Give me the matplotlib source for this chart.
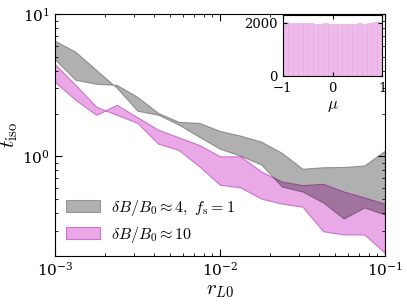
import numpy as np
import matplotlib
matplotlib.use('Agg')
import matplotlib.pyplot as plt

plt.rcParams['mathtext.fontset'] = 'cm'
plt.rcParams['font.family'] = 'serif'
plt.rcParams['font.serif'] = ['DejaVu Serif']

# r_L0 grid
r_L0 = [1.00e-3, 1.33e-3, 1.78e-3, 2.37e-3, 3.16e-3, 4.22e-3, 5.62e-3, 7.50e-3,
        1.00e-2, 1.33e-2, 1.78e-2, 2.37e-2, 3.16e-2, 4.22e-2, 5.62e-2, 7.50e-2, 1.00e-1]

# dB/B0 ~ 4, f_s = 1 (gray band)
gray_a = [6.50, 5.44, 4.05, 3.03, 2.09, 1.96, 1.67, 1.37, 1.13, 1.01, 0.875,
          0.613, 0.566, 0.474, 0.366, 0.437, 0.390]
gray_b = [4.81, 3.45, 3.23, 3.18, 2.62, 2.02, 1.75, 1.72, 1.51, 1.40, 1.27,
          1.06, 0.820, 0.840, 0.843, 0.865, 1.10]

# dB/B0 ~ 10 (pink band)
pink_c = [4.44, 3.18, 2.23, 1.96, 1.72, 1.23, 1.11, 0.851, 0.633, 0.606, 0.505,
          0.466, 0.444, 0.298, 0.283, 0.283, 0.210]
pink_d = [3.34, 2.50, 1.96, 2.30, 1.88, 1.54, 1.36, 1.20, 1.00, 1.00, 0.781,
          0.665, 0.628, 0.641, 0.566, 0.514, 0.464]

# inset histogram of mu
mu_edges = np.linspace(-1, 1, 21)
mu_counts = [2030, 1990, 1980, 1975, 1990, 1970, 1960, 1965, 1970, 1960,
             1950, 1955, 1940, 1945, 1960, 1980, 1950, 2000, 2010, 2015]

fig = plt.figure(figsize=(4.07, 3.05), dpi=100)
ax = fig.add_axes([0.135, 0.161, 0.811, 0.793])

p = ax.fill_between(r_L0, pink_c, pink_d, facecolor='#e9a9e6', edgecolor='#d070d0',
                    linewidth=0.8, label=r'$\delta B/B_0 \approx 10$')
g = ax.fill_between(r_L0, gray_a, gray_b, facecolor='black', alpha=0.31,
                    edgecolor='black', linewidth=0.8,
                    label=r'$\delta B/B_0 \approx 4,\ f_{\rm s}=1$')

ax.set_xscale('log')
ax.set_yscale('log')
ax.set_xlim(1e-3, 1e-1)
ax.set_ylim(0.2, 10)
ax.set_xlabel(r'$r_{L0}$', fontsize=15)
ax.set_ylabel(r'$t_{\rm iso}$', fontsize=15, labelpad=2)
ax.tick_params(which='both', direction='in', top=True, right=True, labelsize=11)
ax.tick_params(which='major', length=5)
ax.tick_params(which='minor', length=2.5)
ax.xaxis.labelpad = 2

ax.legend(handles=[g, p], loc='lower left', frameon=False, fontsize=11.5,
          handlelength=2.1, handleheight=0.8, labelspacing=0.45,
          handletextpad=0.7, borderaxespad=0.3, bbox_to_anchor=(0.0, 0.0))

ins = fig.add_axes([0.695, 0.751, 0.244, 0.2])
ins.hist(mu_edges[:-1], bins=mu_edges, weights=mu_counts, color='#eebbea',
         edgecolor='#e4a8e0', linewidth=0.4)
ins.set_xlim(-1, 1)
ins.set_ylim(0, 2290)
ins.set_xticks([-1, 0, 1])
ins.set_yticks([0, 2000])
ins.set_xlabel(r'$\mu$', fontsize=12, labelpad=1)
ins.tick_params(which='both', direction='in', top=True, right=True, labelsize=9.5,
                length=3)
ins.tick_params(axis='x', pad=4.5)
ins.tick_params(axis='y', pad=4)

fig.savefig('out.png', dpi=100)
